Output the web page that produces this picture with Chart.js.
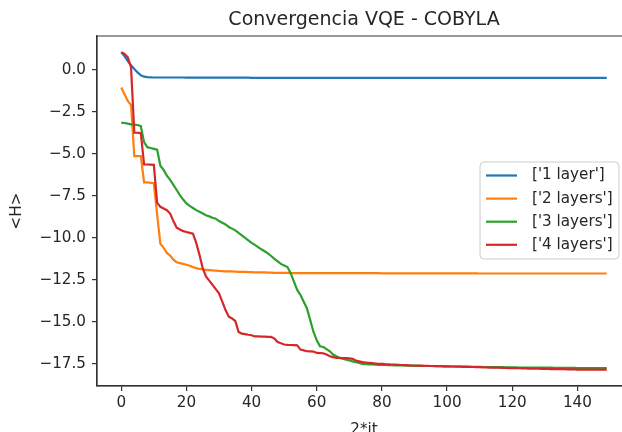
<!DOCTYPE html>
<html>
<head>
<meta charset="utf-8">
<script src="https://cdn.jsdelivr.net/npm/chart.js@4"></script>
<style>
  html, body { margin: 0; padding: 0; background: #fff; overflow: hidden; width: 622px; height: 432px; }
  #wrap { width: 622px; height: 432px; overflow: hidden; position: relative; }
  #conv-chart { position: absolute; left: 0; top: 0; }
</style>
</head>
<body>
<div id="wrap"><canvas id="conv-chart" width="650" height="432"></canvas></div>
<script>
// series labels as shown in the legend
var seriesNames = ["['1 layer']", "['2 layers']", "['3 layers']", "['4 layers']"];
var seriesColors = ['#1f77b4', '#ff7f0e', '#2ca02c', '#d62728'];

// <H> per iteration (index = 2*it)
var layer1 = [
  1.05, 0.82, 0.52, 0.28, 0.06, -0.15, -0.32, -0.40, -0.43, -0.44,
  -0.45, -0.45, -0.45, -0.45, -0.45, -0.45, -0.45, -0.45, -0.45, -0.45,
  -0.46, -0.46, -0.46, -0.46, -0.46, -0.46, -0.46, -0.46, -0.46, -0.46,
  -0.46, -0.46, -0.46, -0.46, -0.46, -0.46, -0.46, -0.46, -0.46, -0.46,
  -0.47, -0.47, -0.47, -0.47, -0.47, -0.47, -0.47, -0.47, -0.47, -0.47,
  -0.47, -0.47, -0.47, -0.47, -0.47, -0.47, -0.47, -0.47, -0.47, -0.47,
  -0.47, -0.47, -0.47, -0.47, -0.47, -0.47, -0.47, -0.47, -0.47, -0.47,
  -0.47, -0.47, -0.47, -0.47, -0.47, -0.47, -0.47, -0.47, -0.47, -0.47,
  -0.47, -0.47, -0.47, -0.47, -0.47, -0.47, -0.47, -0.47, -0.47, -0.47,
  -0.47, -0.47, -0.47, -0.47, -0.47, -0.47, -0.47, -0.47, -0.47, -0.47,
  -0.47, -0.47, -0.47, -0.47, -0.47, -0.47, -0.47, -0.47, -0.47, -0.47,
  -0.47, -0.47, -0.47, -0.47, -0.47, -0.47, -0.47, -0.47, -0.47, -0.47,
  -0.47, -0.47, -0.47, -0.47, -0.47, -0.47, -0.47, -0.47, -0.47, -0.47,
  -0.47, -0.47, -0.47, -0.47, -0.47, -0.47, -0.47, -0.47, -0.47, -0.47,
  -0.47, -0.47, -0.47, -0.47, -0.47, -0.47, -0.47, -0.47, -0.47, -0.47
];
var layer2 = [
  -1.05, -1.45, -1.85, -2.1, -5.13, -5.13, -5.13, -6.7, -6.7, -6.72,
  -6.75, -8.6, -10.35, -10.6, -10.9, -11.05, -11.3, -11.45, -11.5, -11.55,
  -11.6, -11.66, -11.74, -11.8, -11.85, -11.88, -11.9, -11.92, -11.94, -11.95,
  -11.97, -11.98, -11.99, -12.0, -12.0, -12.01, -12.02, -12.02, -12.03, -12.04,
  -12.04, -12.05, -12.05, -12.06, -12.06, -12.07, -12.07, -12.08, -12.08, -12.09,
  -12.09, -12.09, -12.1, -12.1, -12.1, -12.1, -12.1, -12.1, -12.1, -12.1,
  -12.1, -12.1, -12.1, -12.1, -12.1, -12.1, -12.1, -12.1, -12.1, -12.1,
  -12.1, -12.1, -12.1, -12.1, -12.1, -12.1, -12.1, -12.1, -12.1, -12.1,
  -12.11, -12.11, -12.11, -12.11, -12.11, -12.11, -12.11, -12.11, -12.11, -12.11,
  -12.11, -12.11, -12.11, -12.11, -12.11, -12.11, -12.11, -12.11, -12.11, -12.11,
  -12.11, -12.11, -12.11, -12.11, -12.11, -12.11, -12.11, -12.11, -12.11, -12.11,
  -12.12, -12.12, -12.12, -12.12, -12.12, -12.12, -12.12, -12.12, -12.12, -12.12,
  -12.12, -12.12, -12.12, -12.12, -12.12, -12.12, -12.12, -12.12, -12.12, -12.12,
  -12.12, -12.12, -12.12, -12.12, -12.12, -12.12, -12.12, -12.12, -12.12, -12.12,
  -12.12, -12.12, -12.12, -12.12, -12.12, -12.12, -12.12, -12.12, -12.12, -12.12
];
var layer3 = [
  -3.14, -3.16, -3.2, -3.24, -3.26, -3.28, -3.35, -4.3, -4.6, -4.65,
  -4.7, -4.75, -5.7, -5.95, -6.3, -6.55, -6.85, -7.15, -7.45, -7.72,
  -7.95, -8.1, -8.22, -8.35, -8.45, -8.55, -8.65, -8.72, -8.8, -8.86,
  -9.0, -9.1, -9.2, -9.35, -9.45, -9.55, -9.7, -9.85, -10.0, -10.15,
  -10.3, -10.42, -10.55, -10.68, -10.8, -10.92, -11.08, -11.25, -11.4, -11.55,
  -11.65, -11.74, -12.1, -12.6, -13.1, -13.4, -13.8, -14.2, -14.9, -15.6,
  -16.1, -16.45, -16.5, -16.62, -16.75, -16.95, -17.05, -17.15, -17.2, -17.25,
  -17.3, -17.35, -17.4, -17.45, -17.5, -17.52, -17.53, -17.54, -17.55, -17.56,
  -17.57, -17.57, -17.58, -17.58, -17.59, -17.59, -17.6, -17.6, -17.61, -17.61,
  -17.62, -17.62, -17.62, -17.63, -17.63, -17.63, -17.64, -17.64, -17.64, -17.65,
  -17.65, -17.65, -17.66, -17.66, -17.66, -17.67, -17.67, -17.67, -17.68, -17.68,
  -17.68, -17.69, -17.69, -17.69, -17.7, -17.7, -17.7, -17.7, -17.71, -17.71,
  -17.71, -17.71, -17.72, -17.72, -17.72, -17.72, -17.72, -17.73, -17.73, -17.73,
  -17.73, -17.73, -17.73, -17.74, -17.74, -17.74, -17.74, -17.74, -17.74, -17.74,
  -17.75, -17.75, -17.75, -17.75, -17.75, -17.75, -17.75, -17.75, -17.75, -17.75
];
var layer4 = [
  1.05, 0.95, 0.75, 0.15, -3.74, -3.74, -3.76, -5.63, -5.63, -5.64,
  -5.65, -7.9, -8.15, -8.25, -8.35, -8.55, -9.0, -9.4, -9.5, -9.6,
  -9.65, -9.7, -9.75, -10.3, -11.0, -11.8, -12.3, -12.55, -12.8, -13.05,
  -13.3, -13.8, -14.3, -14.7, -14.8, -14.95, -15.6, -15.7, -15.73, -15.77,
  -15.8, -15.87, -15.87, -15.88, -15.88, -15.89, -15.9, -16.0, -16.2, -16.28,
  -16.35, -16.37, -16.38, -16.39, -16.4, -16.65, -16.7, -16.75, -16.76, -16.77,
  -16.85, -16.86, -16.87, -16.95, -17.05, -17.1, -17.15, -17.15, -17.16, -17.16,
  -17.17, -17.2, -17.3, -17.35, -17.4, -17.42, -17.44, -17.46, -17.48, -17.5,
  -17.5, -17.52, -17.53, -17.54, -17.55, -17.56, -17.57, -17.58, -17.59, -17.6,
  -17.6, -17.61, -17.61, -17.62, -17.62, -17.63, -17.63, -17.64, -17.64, -17.65,
  -17.65, -17.66, -17.66, -17.67, -17.67, -17.68, -17.68, -17.69, -17.69, -17.7,
  -17.7, -17.71, -17.71, -17.72, -17.72, -17.73, -17.73, -17.74, -17.74, -17.75,
  -17.75, -17.76, -17.76, -17.77, -17.77, -17.78, -17.78, -17.79, -17.79, -17.8,
  -17.8, -17.8, -17.81, -17.81, -17.82, -17.82, -17.82, -17.83, -17.83, -17.83,
  -17.84, -17.84, -17.84, -17.84, -17.85, -17.85, -17.85, -17.85, -17.85, -17.85
];

var xTicks = [0, 20, 40, 60, 80, 100, 120, 140];
var yTicks = [0, -2.5, -5, -7.5, -10, -12.5, -15, -17.5];
var yTickLabels = ['0.0', '\u22122.5', '\u22125.0', '\u22127.5', '\u221210.0', '\u221212.5', '\u221215.0', '\u221217.5'];

var FONT = 'DejaVu Sans';
var INK = '#262626';
var TXT = 15.2;
Chart.defaults.font.family = FONT;
Chart.defaults.color = INK;

function pts(arr) {
  return arr.map((v, i) => ({ x: i, y: v }));
}

var allSeries = [layer1, layer2, layer3, layer4];

// axes spines (the right one falls outside the window anyway)
var framePlugin = {
  id: 'frame',
  afterDatasetsDraw(chart) {
    var a = chart.chartArea, ctx = chart.ctx;
    ctx.save();
    ctx.strokeStyle = '#333';
    ctx.lineWidth = 1.2;
    ctx.beginPath();
    ctx.moveTo(a.right, a.top);
    ctx.lineTo(a.left, a.top);
    ctx.lineTo(a.left, a.bottom);
    ctx.lineTo(a.right, a.bottom);
    ctx.stroke();
    ctx.restore();
  }
};

// matplotlib-like legend box inside the axes
var legendPlugin = {
  id: 'boxLegend',
  afterDraw(chart) {
    var ctx = chart.ctx;
    var bx = 480, by = 162, bw = 139, bh = 97;
    ctx.save();
    ctx.beginPath();
    ctx.roundRect(bx, by, bw, bh, 4);
    ctx.fillStyle = 'rgba(255,255,255,0.8)';
    ctx.fill();
    ctx.strokeStyle = '#cccccc';
    ctx.lineWidth = 1;
    ctx.stroke();
    ctx.font = TXT + 'px ' + FONT;
    ctx.textBaseline = 'middle';
    ctx.textAlign = 'left';
    chart.data.datasets.forEach((ds, i) => {
      var y = 175.5 + i * 23.1;
      ctx.strokeStyle = ds.borderColor;
      ctx.lineWidth = 2.2;
      ctx.beginPath();
      ctx.moveTo(486, y);
      ctx.lineTo(517, y);
      ctx.stroke();
      ctx.fillStyle = INK;
      ctx.fillText(ds.label, 532, y);
    });
    ctx.restore();
  }
};

var ctx = document.getElementById('conv-chart');
var convChart = new Chart(ctx, {
  type: 'line',
  data: {
    datasets: allSeries.map((s, i) => ({
      label: seriesNames[i],
      data: pts(s),
      borderColor: seriesColors[i],
      backgroundColor: seriesColors[i],
      borderWidth: 2.2,
      pointRadius: 0,
      tension: 0,
      fill: false,
      order: 4 - i
    }))
  },
  options: {
    responsive: false,
    animation: false,
    devicePixelRatio: 1,
    layout: { padding: { left: 0, right: 19, top: 0, bottom: 0 } },
    plugins: {
      legend: { display: false },
      tooltip: { enabled: false },
      title: {
        display: true,
        text: 'Convergencia VQE - COBYLA',
        fullSize: false,
        color: INK,
        font: { size: 19, weight: 'normal' },
        padding: { top: 9, bottom: 4.2 }
      }
    },
    scales: {
      x: {
        type: 'linear',
        min: -7.45,
        max: 156.45,
        afterBuildTicks: s => { s.ticks = xTicks.map(v => ({ value: v })); },
        afterFit: s => { s.height = 46; },
        ticks: { font: { size: TXT }, color: INK, padding: 3, maxRotation: 0, callback: v => String(v) },
        grid: { drawOnChartArea: false, drawTicks: true, tickLength: 5, color: '#333', lineWidth: 1.2 },
        border: { color: '#333', width: 1.2 },
        title: { display: true, text: '2*it', color: INK, font: { size: TXT }, padding: { top: 0, bottom: -7 } }
      },
      y: {
        type: 'linear',
        min: -18.82,
        max: 2.02,
        afterBuildTicks: s => { s.ticks = yTicks.map(v => ({ value: v })); },
        afterFit: s => { s.width = 97; },
        ticks: { font: { size: TXT }, color: INK, padding: 6, callback: (v, i) => yTickLabels[i] },
        grid: { drawOnChartArea: false, drawTicks: true, tickLength: 5, color: '#333', lineWidth: 1.2 },
        border: { color: '#333', width: 1.2 },
        title: { display: true, text: '<H>', color: INK, font: { size: TXT }, padding: { top: 8, bottom: 0 } }
      }
    }
  },
  plugins: [framePlugin, legendPlugin]
});
</script>
</body>
</html>
